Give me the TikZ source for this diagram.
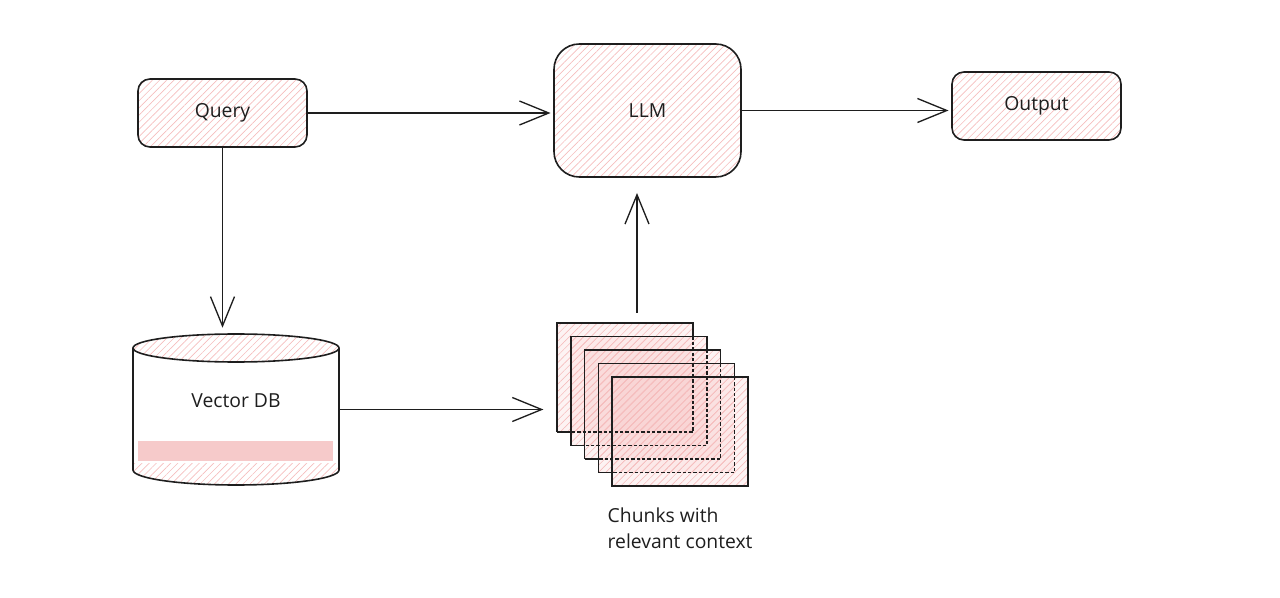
\documentclass[tikz,border=0pt]{standalone}
\usepackage{fontspec}
\setmainfont{Open Sans}
\usetikzlibrary{arrows.meta,patterns.meta,fit,calc}
\definecolor{hatch}{HTML}{F5BDBD}
\definecolor{barpink}{HTML}{F6CACA}
\definecolor{ink}{HTML}{1E1E1E}
\begin{document}
\begin{tikzpicture}[x=0.75pt,y=-0.75pt,
  hatchfill/.style={pattern={Lines[angle=45,distance=3.8pt,line width=0.5pt]}, pattern color=hatch},
  box/.style={draw=ink, line width=1.2pt, hatchfill, inner sep=0pt},
  arr/.style={draw=ink, line width=1pt, -{Straight Barb[length=22pt,width=18pt,line width=1pt]}},
  lbl/.style={font=\fontsize{14.5}{19.5}\selectfont, text=ink},
  edge/.style={draw=ink, line width=1.1pt},
  hid/.style={draw=ink, line width=1.1pt, dash pattern=on 2.5pt off 1.5pt}]
\useasboundingbox (0,0) rectangle (1280,598);

% top boxes
\node[box, rounded corners=9pt, fit={(138,79)(307,147)}, label={[lbl]center:Query}] (query) {};
\node[box, rounded corners=19pt, fit={(554,44)(741,177)}, label={[lbl]center:LLM}] (llm) {};
\node[box, rounded corners=9pt, fit={(952,72)(1121,140)}, label={[lbl]center:Output}] (output) {};

% cylinder (Vector DB)
\fill[hatchfill] (236,348) ellipse [x radius=103, y radius=14];
\fill[barpink] (138,441) rectangle (333,461);
\fill[hatchfill] (133,463) -- (133,470) arc[start angle=180, end angle=0, x radius=103, y radius=15] -- (339,463) -- cycle;
\draw[ink, line width=1.2pt] (236,348) ellipse [x radius=103, y radius=14];
\draw[ink, line width=1.2pt] (133,348) -- (133,470) arc[start angle=180, end angle=0, x radius=103, y radius=15] -- (339,348);
\node[inner sep=0pt, fit={(133,334)(339,485)}] (vdb) {};
\node[lbl] (vdblabel) at (236,401) {Vector DB};

% chunks stack
\foreach \i in {0,...,4} {
  \pgfmathsetmacro{\xa}{557+13.8*\i}
  \pgfmathsetmacro{\ya}{323+13.5*\i}
  \fill[hatchfill] (\xa,\ya) rectangle ++(136,109);
  \fill[hatch, opacity=0.18] (\xa,\ya) rectangle ++(136,109);
}
\foreach \i in {0,...,3} {
  \pgfmathsetmacro{\xa}{557+13.8*\i}
  \pgfmathsetmacro{\ya}{323+13.5*\i}
  \pgfmathsetmacro{\xb}{\xa+136}
  \pgfmathsetmacro{\yb}{\ya+109}
  \pgfmathsetmacro{\xn}{\xa+13.8}
  \pgfmathsetmacro{\yn}{\ya+13.5}
  \draw[edge] (\xa,\yb) -- (\xa,\ya) -- (\xb,\ya) -- (\xb,\yn);
  \draw[edge] (\xa,\yb) -- (\xn,\yb);
  \draw[hid] (\xb,\yn) -- (\xb,\yb) -- (\xn,\yb);
}
\draw[edge] (612.2,377) rectangle ++(136,109);
\node[inner sep=0pt, fit={(557,323)(748,486)}] (chunks) {};
\node[lbl, anchor=north west, align=left] (caption) at (603,503) {Chunks with\\relevant context};

% connectors
\coordinate (upstart) at (637,313);
\coordinate (upend) at (637,193);
\draw[arr, shorten >=2pt] (query.east) -- (query.east -| llm.west);
\draw[arr, shorten >=2pt] (llm.east) -- (llm.east -| output.west);
\draw[arr, shorten >=4.5pt] (query.south) -- (query.south |- vdb.north);
\draw[arr, shorten >=10pt] (vdb.east) -- (vdb.east -| chunks.west);
\draw[arr] (upstart) -- (upend);
\end{tikzpicture}
\end{document}
